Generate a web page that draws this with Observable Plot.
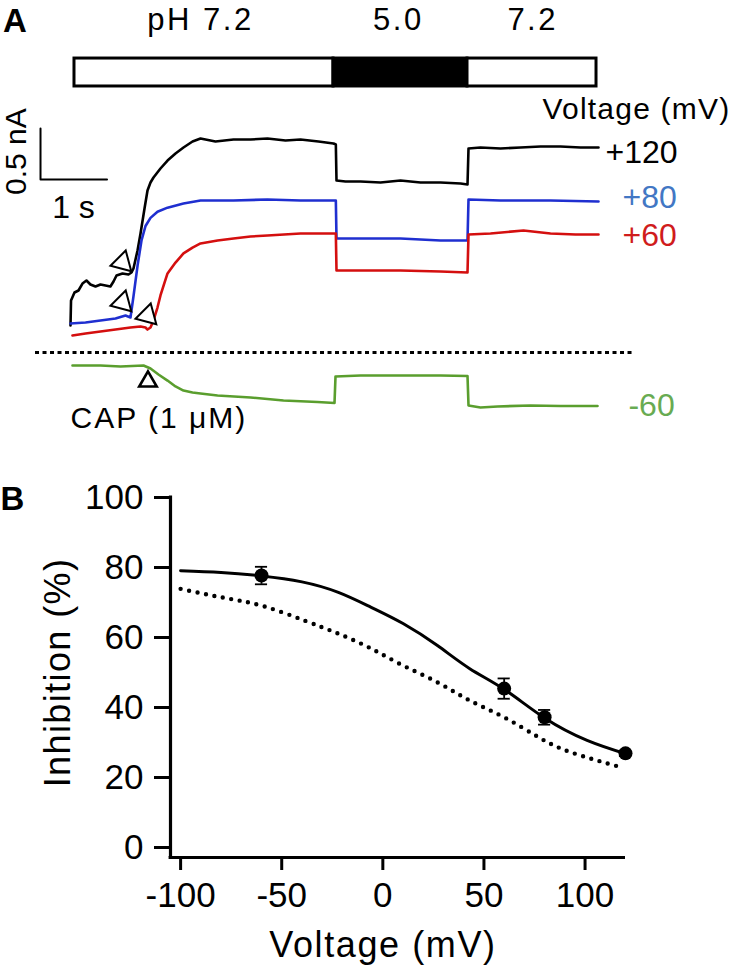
<!DOCTYPE html>
<html><head><meta charset="utf-8">
<script src="https://cdn.jsdelivr.net/npm/d3@7"></script>
<script src="https://cdn.jsdelivr.net/npm/@observablehq/plot@0.6"></script>
<style>
body{margin:0;background:#fff;}
#chart{width:733px;height:974px;}
#chart svg{display:block;}
</style></head><body><div id="chart"></div>
<script>
// ---------- Panel A: current traces (time in s, current in nA) ----------
const t120 = [0,0.008,0.06,0.12,0.18,0.24,0.30,0.376,0.451,0.526,0.60,0.647,0.692,0.782,0.872,0.917,0.947,1.008,1.053,1.113,1.158,1.203,1.248,1.353,1.459,1.579,1.699,1.835,1.955,2.18,2.451,2.707,2.962,3.233,3.459,3.729,3.955,3.99,4.0,4.135,4.361,4.662,4.962,5.263,5.564,5.865,5.97,5.985,6.165,6.466,6.767,7.068,7.368,7.669,7.94];
const i120 = [0.265,0.51,0.588,0.608,0.676,0.706,0.667,0.647,0.667,0.657,0.647,0.696,0.755,0.775,0.765,0.784,0.824,1.0,1.167,1.412,1.588,1.667,1.716,1.804,1.882,1.951,2.01,2.069,2.098,2.069,2.088,2.088,2.098,2.078,2.088,2.069,2.049,2.039,1.686,1.676,1.676,1.667,1.686,1.667,1.667,1.657,1.647,2.0,2.01,2.0,2.01,2.02,2.02,2.01,2.01];

const t80 = [0,0.226,0.451,0.677,0.827,0.902,0.947,1.008,1.068,1.128,1.203,1.308,1.459,1.699,1.955,2.451,2.962,3.459,3.99,4.0,4.361,4.962,5.564,5.97,5.985,6.466,7.218,7.94];
const i80 = [0.284,0.294,0.314,0.333,0.363,0.343,0.55,0.85,1.1,1.24,1.32,1.38,1.42,1.46,1.49,1.49,1.5,1.49,1.49,1.118,1.118,1.118,1.098,1.098,1.5,1.49,1.49,1.48];

const t60 = [0.03,0.226,0.451,0.677,0.902,1.053,1.128,1.158,1.203,1.248,1.308,1.353,1.414,1.459,1.579,1.699,1.835,1.955,2.211,2.451,2.707,2.962,3.459,3.99,4.0,4.361,4.962,5.564,5.97,5.985,6.316,6.812,7.218,7.594,7.94];
const i60 = [0.167,0.186,0.206,0.225,0.245,0.255,0.245,0.225,0.245,0.314,0.441,0.559,0.686,0.775,0.882,0.971,1.029,1.069,1.098,1.118,1.137,1.147,1.167,1.167,0.804,0.804,0.804,0.794,0.784,1.157,1.167,1.196,1.167,1.157,1.157];

const tm60 = [0.03,0.451,0.752,1.098,1.203,1.323,1.459,1.579,1.699,1.835,1.955,2.211,2.707,3.203,3.714,3.97,3.985,4.361,4.962,5.564,5.97,5.985,6.165,6.421,6.917,7.368,7.925];
const im60 = [-0.127,-0.127,-0.137,-0.127,-0.157,-0.216,-0.275,-0.333,-0.373,-0.392,-0.402,-0.422,-0.441,-0.471,-0.485,-0.495,-0.235,-0.225,-0.225,-0.225,-0.23,-0.52,-0.539,-0.529,-0.52,-0.525,-0.525];

const traceColors = ["#000000", "#1f2fd0", "#d40f0f", "#5a9e2e"];
const labelColors = ["#000000", "#4277c4", "#d01c1c", "#68ab52"];
const traceLabels = ["+120", "+80", "+60", "-60"];
const traceLabelT = [8.045, 8.30, 8.30, 8.39];
const traceLabelI = [1.961, 1.52, 1.147, -0.52];

// pH application bar
const phStart = [0.06, 3.955, 5.97];
const phEnd = [3.955, 5.97, 7.91];
const phValue = [7.2, 5.0, 7.2];
const phLabels = ["pH 7.2", "5.0", "7.2"];
const phLabelT = [1.955, 4.93, 6.95];

// onset markers (capsaicin application)
const arrowT = [0.782, 0.782, 1.158];
const arrowI = [0.882, 0.49, 0.363];
const capT = [1.165];
const capI = [-0.284];

// ---------- Panel B: inhibition vs voltage ----------
const voltage = [-60, 60, 80, 120];
const inhibition = [77.7, 45.4, 37.2, 26.9];
const sem = [2.5, 2.9, 2.1, 0.8];
const fitV = [-100, -80, -60, -40, -22, -6, 10, 27, 43, 60, 80, 101, 120];
const fitI = [79.1, 78.6, 77.6, 75.9, 72.9, 68.7, 64.0, 57.7, 51.1, 45.2, 37.0, 30.6, 26.8];
const dotV = [-100, -80, -60, -39, -22, -6, 10, 27, 43, 60, 77, 93, 118];
const dotI = [73.9, 71.5, 69.1, 64.9, 61.1, 56.9, 52.0, 47.2, 42.0, 37.2, 31.5, 27.2, 22.9];
const xTicks = [-100, -50, 0, 50, 100];
const yTicks = [0, 20, 40, 60, 80, 100];

const FONT = '"Liberation Sans", Arial, Helvetica, sans-serif';
const zip = (xs, ys) => xs.map((x, k) => ({x, y: ys[k]}));

const traces = [zip(t120, i120), zip(t80, i80), zip(t60, i60), zip(tm60, im60)];
const phSegs = phStart.map((s, k) => ({s, e: phEnd[k], ph: phValue[k]}));
const phText = phLabels.map((s, k) => ({x: phLabelT[k], y: 3.255, s}));
const trLab = traceLabels.map((s, k) => ({x: traceLabelT[k], y: traceLabelI[k], s, c: labelColors[k]}));
const scaleBar = [{x: -0.451, y: 2.196}, {x: -0.451, y: 1.696}, {x: 0.549, y: 1.696}];

const panelA = Plot.plot({
  width: 733, height: 460, margin: 0,
  x: {type: "linear", domain: [0, 1], range: [70, 136.5], axis: null},
  y: {type: "linear", domain: [0, 1], range: [352, 250], axis: null},
  style: {fontFamily: FONT, background: "white", color: "black", overflow: "visible"},
  marks: [
    Plot.rect(phSegs, {x1: "s", x2: "e", y1: () => 2.608, y2: () => 2.882,
      fill: d => d.ph === 5 ? "black" : "white", stroke: "black", strokeWidth: 3}),
    Plot.text(phText, {x: "x", y: "y", text: "s", fontSize: 31, textAnchor: "middle", lineAnchor: "middle"}),
    Plot.text([{x: -0.835, y: 3.25, s: "A"}], {x: "x", y: "y", text: "s", fontSize: 33, fontWeight: "bold", lineAnchor: "middle"}),
    Plot.line(scaleBar, {x: "x", y: "y", stroke: "black", strokeWidth: 2}),
    Plot.text([{x: -0.81, y: 1.97, s: "0.5 nA"}], {x: "x", y: "y", text: "s", fontSize: 30, rotate: -90, lineAnchor: "middle"}),
    Plot.text([{x: 0.045, y: 1.42, s: "1 s"}], {x: "x", y: "y", text: "s", fontSize: 32, lineAnchor: "middle"}),
    Plot.ruleY([0], {x1: () => -0.526, x2: () => 8.496, stroke: "black", strokeWidth: 3, strokeDasharray: "4,3.5"}),
    ...traces.map((tr, k) => Plot.line(tr, {x: "x", y: "y", stroke: traceColors[k], strokeWidth: 2.6})),
    Plot.dot(zip(arrowT, arrowI), {x: "x", y: "y", symbol: "triangle", r: 8, fill: "white", stroke: "black", strokeWidth: 2, rotate: 135}),
    Plot.dot(zip(capT, capI), {x: "x", y: "y", symbol: "triangle", r: 6.5, fill: "white", stroke: "black", strokeWidth: 2.6}),
    Plot.text([{x: 7.098, y: 2.382, s: "Voltage (mV)"}], {x: "x", y: "y", text: "s", fontSize: 30, textAnchor: "start", lineAnchor: "middle"}),
    Plot.text(trLab, {x: "x", y: "y", text: "s", fill: "c", fontSize: 32, textAnchor: "start", lineAnchor: "middle"}),
    Plot.text([{x: 0, y: -0.642, s: "CAP (1 μM)"}], {x: "x", y: "y", text: "s", fontSize: 30, textAnchor: "start", lineAnchor: "middle"})
  ]
});

const pts = voltage.map((v, k) => ({v, y: inhibition[k], e: sem[k]}));
const panelB = Plot.plot({
  width: 733, height: 514, marginLeft: 170, marginRight: 108, marginTop: 37, marginBottom: 117,
  x: {type: "linear", domain: [-105, 120]},
  y: {type: "linear", domain: [-2.86, 100]},
  style: {fontFamily: FONT, background: "white", color: "black", overflow: "visible"},
  marks: [
    Plot.axisY({ticks: yTicks, tickSize: 16, tickPadding: 11, strokeWidth: 3, fontSize: 35, label: null, tickFormat: d => String(d)}),
    Plot.axisX({ticks: xTicks, tickSize: 13, tickPadding: 12, strokeWidth: 3, fontSize: 35, label: null, tickFormat: d => String(d)}),
    Plot.ruleX([-105], {y1: () => -2.86, y2: () => 100.4, strokeWidth: 3.2}),
    Plot.ruleY([-2.86], {x1: () => -105.7, x2: () => 120, strokeWidth: 3.2}),
    Plot.line(zip(dotV, dotI), {x: "x", y: "y", curve: "natural", strokeWidth: 4.4, strokeDasharray: "0,8.6", strokeLinecap: "round"}),
    Plot.line(zip(fitV, fitI), {x: "x", y: "y", curve: "natural", strokeWidth: 3}),
    Plot.ruleX(pts, {x: "v", y1: d => d.y - d.e, y2: d => d.y + d.e, strokeWidth: 1.8}),
    Plot.ruleY(pts, {y: d => d.y + d.e, x1: d => d.v - 3, x2: d => d.v + 3, strokeWidth: 1.8}),
    Plot.ruleY(pts, {y: d => d.y - d.e, x1: d => d.v - 3, x2: d => d.v + 3, strokeWidth: 1.8}),
    Plot.dot(pts, {x: "v", y: "y", r: 7, fill: "black"}),
    Plot.text(["Voltage (mV)"], {frameAnchor: "bottom", dx: -15, dy: 88, fontSize: 36, textAnchor: "middle", lineAnchor: "middle"}),
    Plot.text(["Inhibition (%)"], {frameAnchor: "left", dx: -112, dy: -5, rotate: -90, fontSize: 36, textAnchor: "middle", lineAnchor: "middle"}),
    Plot.text(["B"], {frameAnchor: "top-left", dx: -158, dy: 2, fontSize: 33, fontWeight: "bold", textAnchor: "middle", lineAnchor: "middle"})
  ]
});

const root = document.getElementById("chart");
root.appendChild(panelA);
root.appendChild(panelB);
const spacing = {"pH 7.2": "2.5px", "5.0": "2.5px", "7.2": "2.5px", "Voltage (mV)": "1.2px", "CAP (1 μM)": "2px"};
panelA.querySelectorAll("text").forEach(t => {
  if (spacing[t.textContent]) t.style.letterSpacing = spacing[t.textContent];
});
const spacingB = {"Voltage (mV)": "1.6px", "Inhibition (%)": "1.4px"};
panelB.querySelectorAll("text").forEach(t => {
  if (spacingB[t.textContent]) t.style.letterSpacing = spacingB[t.textContent];
});
</script>
</body></html>
